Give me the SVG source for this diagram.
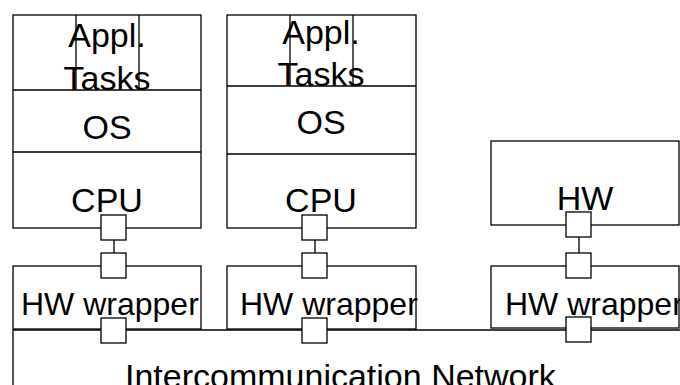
<svg xmlns="http://www.w3.org/2000/svg" width="680" height="385" viewBox="0 0 680 385">
<style>
.box{fill:#fff;stroke:#000;stroke-width:1.3}
.ln{fill:none;stroke:#000;stroke-width:1.3}
.port{fill:#fff;stroke:#000;stroke-width:1.3}
text{font-family:"Liberation Sans",Arial,sans-serif;font-size:34px;fill:#000}
.c{text-anchor:middle}
.w{font-size:32px}
</style>
<rect width="680" height="385" fill="#fff"/>
<g id="network">
<path class="ln" d="M13,385 V330 H681"/>
<text x="125" y="388">Intercommunication Network</text>
</g>
<g id="node1">
<rect class="box" x="13" y="15" width="188" height="213"/>
<path class="ln" d="M13,90 H201 M13,152 H201 M76,15 V90 M139,15 V90"/>
<text class="c" x="107" y="47">Appl.</text>
<text class="c" x="107" y="90">Tasks</text>
<text class="c" x="107" y="139">OS</text>
<text class="c" x="107" y="212">CPU</text>
</g>
<g id="wrapper1">
<rect class="box" x="13" y="266" width="188" height="63"/>
</g>
<g id="node2">
<rect class="box" x="227" y="15" width="189" height="213"/>
<path class="ln" d="M227,86 H416 M227,154 H416 M290,15 V86 M353,15 V86"/>
<text class="c" x="321" y="44">Appl.</text>
<text class="c" x="321" y="86">Tasks</text>
<text class="c" x="321" y="134">OS</text>
<text class="c" x="321" y="212">CPU</text>
</g>
<g id="wrapper2">
<rect class="box" x="227" y="266" width="189" height="63"/>
</g>
<g id="hw">
<rect class="box" x="491" y="141" width="188" height="84"/>
<text class="c" x="585" y="210">HW</text>
</g>
<g id="wrapper3">
<rect class="box" x="491" y="266" width="188" height="62"/>
</g>
<g id="connectors">
<path class="ln" d="M114,240 V253 M315,240 V253 M579,237 V253"/>
</g>
<g id="ports">
<rect class="port" x="101" y="215" width="25" height="25"/>
<rect class="port" x="101" y="253" width="25" height="25"/>
<rect class="port" x="101" y="318" width="25" height="25"/>
<rect class="port" x="302" y="215" width="25" height="25"/>
<rect class="port" x="302" y="253" width="25" height="25"/>
<rect class="port" x="302" y="318" width="25" height="25"/>
<rect class="port" x="566" y="212" width="25" height="25"/>
<rect class="port" x="566" y="253" width="25" height="25"/>
<rect class="port" x="566" y="317" width="25" height="25"/>
</g>
<g id="wrapper-labels">
<text class="w" x="21" y="315">HW wrapper</text>
<text class="w" x="240" y="315">HW wrapper</text>
<text class="w" x="505" y="315">HW wrapper</text>
</g>
</svg>
